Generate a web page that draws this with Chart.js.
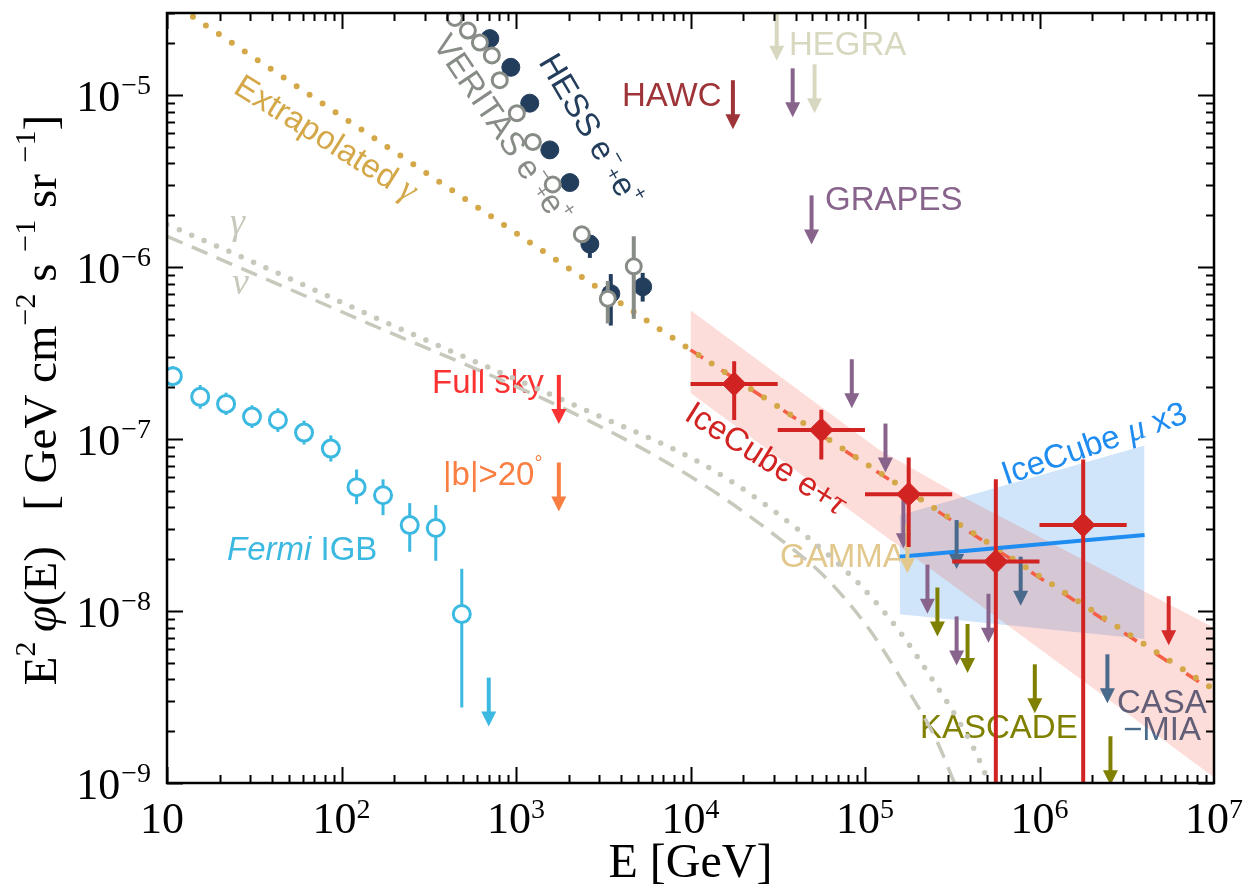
<!DOCTYPE html>
<html>
<head>
<meta charset="utf-8">
<title>Diffuse gamma / neutrino fluxes</title>
<script src="https://cdn.jsdelivr.net/npm/chart.js@4.4.1/dist/chart.umd.min.js"></script>
<style>
  html, body { margin: 0; padding: 0; background: #fff; }
  canvas { display: block; }
</style>
</head>
<body>
<canvas id="fluxChart" width="1259" height="895"></canvas>
<script>
// ---- axis ticks ----
const xTicks = [10, 1e2, 1e3, 1e4, 1e5, 1e6, 1e7];
const xTickExp = ['', '2', '3', '4', '5', '6', '7'];
const yTicks = [1e-9, 1e-8, 1e-7, 1e-6, 1e-5];
const yTickExp = ['\u22129', '\u22128', '\u22127', '\u22126', '\u22125'];

// ---- Fermi IGB ----
const fermiE    = [10.8, 15.5, 21.8, 30.7, 43.2, 61.0, 86.9, 122, 173, 246, 347, 489];
const fermiFlux = [2.32e-7, 1.76e-7, 1.60e-7, 1.35e-7, 1.29e-7, 1.09e-7, 8.8e-8, 5.25e-8, 4.71e-8, 3.16e-8, 3.04e-8, 9.6e-9];
const fermiLo   = [2.03e-7, 1.50e-7, 1.38e-7, 1.16e-7, 1.10e-7, 9.3e-8, 7.4e-8, 4.18e-8, 3.61e-8, 2.21e-8, 1.96e-8, 2.75e-9];
const fermiHi   = [2.65e-7, 2.06e-7, 1.86e-7, 1.57e-7, 1.51e-7, 1.28e-7, 1.05e-7, 6.65e-8, 5.83e-8, 4.24e-8, 4.13e-8, 1.76e-8];

// ---- HESS e-+e+ ----
const hessE    = [708, 934, 1199, 1562, 2034, 2650, 3493, 5321];
const hessFlux = [2.13e-5, 1.45e-5, 8.97e-6, 4.80e-6, 3.10e-6, 1.36e-6, 7.0e-7, 7.68e-7];
const hessLo   = [2.0e-5, 1.37e-5, 8.4e-6, 4.5e-6, 2.85e-6, 1.13e-6, 4.57e-7, 6.3e-7];
const hessHi   = [2.25e-5, 1.53e-5, 9.5e-6, 5.1e-6, 3.35e-6, 1.5e-6, 9.1e-7, 9.25e-7];

// ---- VERITAS e-+e+ ----
const veritasE    = [446, 530, 621, 727, 807, 1011, 1249, 1624, 2384, 3357, 4730];
const veritasFlux = [2.81e-5, 2.37e-5, 2.02e-5, 1.70e-5, 1.22e-5, 7.85e-6, 5.34e-6, 3.02e-6, 1.55e-6, 6.55e-7, 1.01e-6];
const veritasLo   = [2.7e-5, 2.28e-5, 1.94e-5, 1.63e-5, 1.17e-5, 7.5e-6, 5.1e-6, 2.88e-6, 1.45e-6, 4.7e-7, 5.0e-7];
const veritasHi   = [2.92e-5, 2.46e-5, 2.1e-5, 1.77e-5, 1.27e-5, 8.2e-6, 5.6e-6, 3.16e-6, 1.66e-6, 8.3e-7, 1.51e-6];

// ---- IceCube e+tau ----
const icE    = [1.78e4, 5.62e4, 1.78e5, 5.62e5, 1.78e6];
const icEmin = [1.0e4, 3.16e4, 1.0e5, 3.16e5, 1.0e6];
const icEmax = [3.16e4, 1.0e5, 3.16e5, 1.0e6, 3.16e6];
const icFlux = [2.09e-7, 1.13e-7, 4.78e-8, 1.94e-8, 3.16e-8];
const icLo   = [1.29e-7, 7.6e-8, 2.36e-8, 1e-12, 1e-12];
const icHi   = [2.83e-7, 1.48e-7, 7.8e-8, 5.83e-8, 7.6e-8];
const icFitE    = [1e4, 1e7];
const icFitFlux = [3.3e-7, 3.4e-9];
const icBandE  = [1e4, 1.2e5, 3.5e5, 1e7];
const icBandHi = [5.6e-7, 8.7e-8, 4.7e-8, 8.0e-9];
const icBandLo = [1.85e-7, 2.9e-8, 1.32e-8, 1.08e-9];

// ---- IceCube mu x3 ----
const muE     = [1.58e5, 4.0e6];
const muFit   = [2.07e-8, 2.77e-8];
const muBandHi = [3.61e-8, 9.16e-8];
const muBandLo = [9.57e-9, 6.87e-9];

// ---- model curves ----
const extrapE    = [10, 1e4, 1e7];
const extrapFlux = [3.6e-5, 3.3e-7, 3.5e-9];
const gamE    = [10, 31.1, 170, 2900, 1e4, 1.86e4, 3.12e4, 5.7e4, 9.3e4, 1.58e5, 2.5e5, 3.48e5, 4.66e5, 5.3e5];
const gamFlux = [1.77e-6, 1.07e-6, 4.89e-7, 1.38e-7, 7.8e-8, 5.38e-8, 3.71e-8, 2.27e-8, 1.43e-8, 7.6e-9, 3.83e-9, 2.25e-9, 1.27e-9, 9e-10];
const nuE    = [10, 116, 2415, 1.13e4, 3.24e4, 6.0e4, 1.06e5, 1.73e5, 2.57e5, 3.26e5, 3.6e5];
const nuFlux = [1.51e-6, 5.15e-7, 1.33e-7, 5.6e-8, 2.63e-8, 1.55e-8, 7.8e-9, 3.58e-9, 1.77e-9, 1.0e-9, 8e-10];

// ---- upper limits (flux at arrow top) ----
const hegraE = [3.12e4, 5.14e4];
const hegraUL = [3.05e-5, 1.51e-5];
const grapesE = [3.85e4, 4.94e4, 8.4e4, 1.31e5, 1.66e5, 2.28e5, 3.35e5, 5.1e5];
const grapesUL = [1.43e-5, 2.61e-6, 2.91e-7, 1.23e-7, 4.47e-8, 1.86e-8, 9.3e-9, 1.26e-8];
const hawcE = [1.75e4];
const hawcUL = [1.22e-5];
const fullSkyE = [1.76e3];
const fullSkyUL = [2.36e-7];
const highLatE = [1.76e3];
const highLatUL = [7.3e-8];
const fermiUlE = [698];
const fermiUL = [4.1e-9];
const kascadeE = [2.6e5, 3.87e5, 9.4e5, 2.55e6];
const kascadeUL = [1.37e-8, 8.4e-9, 4.9e-9, 1.87e-9];
const casaE = [3.35e5, 7.8e5, 2.45e6];
const casaUL = [3.38e-8, 2.07e-8, 5.6e-9];
const gammaExpE = [1.75e5];
const gammaExpUL = [3.2e-8];
const icUlE = [5.5e6];
const icUL = [1.22e-8];

const SANS = '"Liberation Sans", Arial, Helvetica, sans-serif';
const SERIF = '"Liberation Serif", "Times New Roman", Times, serif';

const C = {
  fermi: '#3cb9e1', hess: '#233d5c', veritas: '#878c86', ic: '#d22323', icFit: '#f55f46',
  mu: '#1e8cf0', muBand: '#d0e5fa', icBand: 'rgba(240,30,0,0.15)', gold: '#d4a848', model: '#c8c8bc',
  hegra: '#d8d8c0', grapes: '#88648c', hawc: '#9e3438', fullSky: '#fa3232', highLat: '#fa7d41',
  kascade: '#808000', casa: '#4a6a8c', gammaExp: '#e2c88c', icUl: '#d42a2a'
};

const ulGroups = [
  { E: hegraE, ul: hegraUL, color: C.hegra },
  { E: grapesE, ul: grapesUL, color: C.grapes },
  { E: hawcE, ul: hawcUL, color: C.hawc },
  { E: fullSkyE, ul: fullSkyUL, color: C.fullSky },
  { E: highLatE, ul: highLatUL, color: C.highLat },
  { E: fermiUlE, ul: fermiUL, color: C.fermi },
  { E: kascadeE, ul: kascadeUL, color: C.kascade },
  { E: gammaExpE, ul: gammaExpUL, color: C.gammaExp },
  { E: casaE, ul: casaUL, color: C.casa },
  { E: icUlE, ul: icUL, color: C.icUl }
];

// text labels: [text, kind] kinds: n normal, i italic, g greek italic (serif), sup, small
const labels = [
  { x: 789, y: 55, color: C.hegra, parts: [['HEGRA']] },
  { x: 622, y: 106, color: C.hawc, parts: [['HAWC']] },
  { x: 825, y: 210, color: C.grapes, parts: [['GRAPES']] },
  { x: 432, y: 393, color: C.fullSky, parts: [['Full sky']] },
  { x: 443, y: 485, color: C.highLat, parts: [['|b|>20'], ['\u00b0', 'sup']] },
  { x: 227, y: 560, color: C.fermi, parts: [['Fermi', 'i'], [' IGB']] },
  { x: 780, y: 567, color: C.gammaExp, parts: [['GAMMA']] },
  { x: 920, y: 738, color: C.kascade, parts: [['KASCADE']] },
  { x: 1117, y: 713, color: C.casa, parts: [['CASA']] },
  { x: 1123, y: 740, color: C.casa, parts: [['\u2212MIA']] },
  { x: 683, y: 419, rot: 32, color: C.ic, parts: [['IceCube e+'], ['\u03c4', 'g']] },
  { x: 1006, y: 485, rot: -19, color: C.mu, parts: [['IceCube '], ['\u03bc', 'g'], [' x3']] },
  { x: 232, y: 92, rot: 32, color: C.gold, parts: [['Extrapolated '], ['\u03b3', 'g']] },
  { x: 538, y: 62, rot: 59.5, color: C.hess, parts: [['HESS e'], ['\u2212', 'sup'], ['+', 'small'], ['e'], ['+', 'sup']] },
  { x: 432, y: 44, rot: 56, color: C.veritas, parts: [['VERITAS e'], ['\u2212', 'sup'], ['+', 'small'], ['e'], ['+', 'sup']] },
  { x: 230, y: 234, color: C.model, size: 36, parts: [['\u03b3', 'g']] },
  { x: 232, y: 294, color: C.model, size: 36, parts: [['\u03bd', 'g']] }
];

function pts(xs, ys){ return xs.map((x, i) => ({ x, y: ys[i] })); }

function lineSet(xs, ys, style){
  return Object.assign({
    type: 'line', data: pts(xs, ys), pointRadius: 0, pointHitRadius: 0,
    fill: false, clip: 0, borderColor: 'rgba(0,0,0,0)', borderWidth: 0
  }, style);
}

function markerSet(xs, ys, style){
  return Object.assign({ type: 'scatter', data: pts(xs, ys), clip: 0, pointHitRadius: 0 }, style);
}

function drawRich(ctx, spec){
  const size = spec.size || 33;
  ctx.save();
  ctx.translate(spec.x, spec.y);
  if (spec.rot) ctx.rotate(spec.rot * Math.PI / 180);
  ctx.fillStyle = spec.color;
  ctx.textBaseline = 'alphabetic';
  ctx.textAlign = 'left';
  let cx = 0;
  spec.parts.forEach(([t, kind]) => {
    let font, dy = 0;
    if (kind === 'i') font = 'italic ' + size + 'px ' + SANS;
    else if (kind === 'g') font = 'italic ' + Math.round(size * 1.05) + 'px ' + SERIF;
    else if (kind === 'sup') { font = Math.round(size * 0.62) + 'px ' + SANS; dy = -size * 0.45; }
    else if (kind === 'small') { font = Math.round(size * 0.62) + 'px ' + SANS; dy = -size * 0.05; }
    else font = size + 'px ' + SANS;
    ctx.font = font;
    ctx.fillText(t, cx, dy);
    cx += ctx.measureText(t).width;
  });
  ctx.restore();
}

function clipArea(chart){
  const a = chart.chartArea, ctx = chart.ctx;
  ctx.beginPath();
  ctx.rect(a.left, a.top, a.right - a.left, a.bottom - a.top);
  ctx.clip();
}

function drawErrs(chart, ds){
  const { ctx, scales: { x, y } } = chart;
  const e = ds.errs;
  ctx.save();
  clipArea(chart);
  ctx.strokeStyle = e.color;
  ctx.lineWidth = e.width;
  ds.data.forEach((p, i) => {
    const px = x.getPixelForValue(p.x);
    ctx.beginPath();
    ctx.moveTo(px, y.getPixelForValue(e.hi[i]));
    ctx.lineTo(px, y.getPixelForValue(e.lo[i]));
    if (e.xlo){
      const py = y.getPixelForValue(p.y);
      ctx.moveTo(x.getPixelForValue(e.xlo[i]), py);
      ctx.lineTo(x.getPixelForValue(e.xhi[i]), py);
    }
    ctx.stroke();
  });
  ctx.restore();
}

function drawArrows(chart){
  const { ctx, scales: { x, y } } = chart;
  ctx.save();
  clipArea(chart);
  ulGroups.forEach(g => {
    ctx.strokeStyle = g.color;
    ctx.fillStyle = g.color;
    ctx.lineWidth = 4;
    g.E.forEach((E, i) => {
      const px = x.getPixelForValue(E);
      const top = y.getPixelForValue(g.ul[i]);
      const tip = top + 49;
      ctx.beginPath();
      ctx.moveTo(px, top);
      ctx.lineTo(px, tip - 12);
      ctx.stroke();
      ctx.beginPath();
      ctx.moveTo(px - 7.5, tip - 15);
      ctx.lineTo(px + 7.5, tip - 15);
      ctx.lineTo(px, tip);
      ctx.closePath();
      ctx.fill();
    });
  });
  ctx.restore();
}

function drawFrame(chart){
  const { ctx, chartArea: a, scales: { x, y } } = chart;
  ctx.save();
  ctx.strokeStyle = '#000';
  ctx.lineWidth = 2;
  ctx.beginPath();
  // x ticks on bottom and top
  for (let d = 10; d < 1e7; d *= 10){
    for (let m = 1; m <= 9; m++){
      const px = Math.round(x.getPixelForValue(d * m)) + 0.5;
      const len = m === 1 ? 16 : 8;
      ctx.moveTo(px, a.bottom); ctx.lineTo(px, a.bottom - len);
      ctx.moveTo(px, a.top); ctx.lineTo(px, a.top + len);
    }
  }
  // y ticks on left and right
  for (let d = 1e-9; d < 3e-5; d *= 10){
    for (let m = 1; m <= 9; m++){
      const v = d * m;
      if (v > 3e-5) break;
      const py = Math.round(y.getPixelForValue(v)) + 0.5;
      const len = m === 1 ? 16 : 8;
      ctx.moveTo(a.left, py); ctx.lineTo(a.left + len, py);
      ctx.moveTo(a.right, py); ctx.lineTo(a.right - len, py);
    }
  }
  ctx.stroke();
  ctx.lineWidth = 2.5;
  ctx.strokeRect(a.left, a.top, a.right - a.left, a.bottom - a.top);

  // tick labels
  ctx.fillStyle = '#000';
  ctx.textBaseline = 'alphabetic';
  ctx.textAlign = 'left';
  xTicks.forEach((v, i) => {
    const px = x.getPixelForValue(v);
    ctx.font = '44px ' + SERIF;
    const bw = ctx.measureText('10').width;
    ctx.font = '28px ' + SERIF;
    const ew = ctx.measureText(xTickExp[i]).width;
    const start = px - (bw + ew) / 2 - (i === 0 ? 5 : 0);
    ctx.font = '44px ' + SERIF;
    ctx.fillText('10', start, a.bottom + 50);
    ctx.font = '28px ' + SERIF;
    ctx.fillText(xTickExp[i], start + bw, a.bottom + 35);
  });
  yTicks.forEach((v, i) => {
    const py = y.getPixelForValue(v);
    ctx.font = '28px ' + SERIF;
    const ew = ctx.measureText(yTickExp[i]).width;
    ctx.fillText(yTickExp[i], 151 - ew, py - 1);
    ctx.font = '44px ' + SERIF;
    const bw = ctx.measureText('10').width;
    ctx.fillText('10', 150 - ew - bw, py + 16);
  });

  // axis titles
  ctx.font = '48px ' + SERIF;
  ctx.textAlign = 'center';
  ctx.fillText('E [GeV]', (a.left + a.right) / 2, 877);

  const yParts = [
    ['E', 47, 0], ['2', 30, -21], ['\u2009', 47, 0], ['\u03c6', 47, 0, 'italic '], ['(E)\u2002 [ GeV cm', 47, 0],
    ['\u22122', 30, -21], [' s ', 47, 0], ['\u22121', 30, -21], [' sr ', 47, 0], ['\u22121', 30, -21], [']', 47, 0]
  ];
  ctx.save();
  ctx.translate(56, 400);
  ctx.rotate(-Math.PI / 2);
  ctx.textAlign = 'left';
  let total = 0;
  yParts.forEach(p => { ctx.font = (p[3] || '') + p[1] + 'px ' + SERIF; total += ctx.measureText(p[0]).width; });
  let cx = -total / 2;
  yParts.forEach(p => {
    ctx.font = (p[3] || '') + p[1] + 'px ' + SERIF;
    ctx.fillText(p[0], cx, p[2]);
    cx += ctx.measureText(p[0]).width;
  });
  ctx.restore();
  ctx.restore();
}

const overlayPlugin = {
  id: 'overlay',
  beforeDatasetsDraw(chart){
    const ctx = chart.ctx;
    ctx.save();
    labels.forEach(l => drawRich(ctx, l));
    ctx.restore();
  },
  beforeDatasetDraw(chart, args){
    const ds = chart.data.datasets[args.index];
    if (ds.errs) drawErrs(chart, ds);
  },
  afterDatasetDraw(chart, args){
    const ds = chart.data.datasets[args.index];
    if (ds.withArrows) drawArrows(chart);
  },
  afterDraw(chart){ drawFrame(chart); }
};

const datasets = [
  lineSet(muE, muBandHi, { backgroundColor: C.muBand, fill: 1, order: 20 }),          // 0
  lineSet(muE, muBandLo, { order: 20 }),                                              // 1
  lineSet(icBandE, icBandHi, { backgroundColor: C.icBand, fill: 3, order: 19 }),      // 2
  lineSet(icBandE, icBandLo, { order: 19 }),                                          // 3
  lineSet(nuE, nuFlux, { borderColor: C.model, borderWidth: 3.5, borderDash: [17, 10], cubicInterpolationMode: 'monotone', order: 16 }),
  lineSet(gamE, gamFlux, { borderColor: C.model, borderWidth: 5.5, borderDash: [0, 13.5], borderCapStyle: 'round', cubicInterpolationMode: 'monotone', order: 16 }),
  lineSet(icFitE, icFitFlux, { borderColor: C.icFit, borderWidth: 3.5, borderDash: [15, 22], order: 15 }),
  lineSet(extrapE, extrapFlux, { borderColor: C.gold, borderWidth: 6, borderDash: [0, 15.6], borderCapStyle: 'round', order: 14 }),
  lineSet(muE, muFit, { borderColor: C.mu, borderWidth: 4, order: 12, withArrows: true }),
  markerSet(hessE, hessFlux, { pointStyle: 'circle', pointRadius: 9, pointBorderWidth: 1, pointBackgroundColor: C.hess, pointBorderColor: C.hess, order: 5,
    errs: { lo: hessLo, hi: hessHi, color: C.hess, width: 4 } }),
  markerSet(veritasE, veritasFlux, { pointStyle: 'circle', pointRadius: 7.5, pointBorderWidth: 3, pointBackgroundColor: '#fff', pointBorderColor: C.veritas, order: 4,
    errs: { lo: veritasLo, hi: veritasHi, color: C.veritas, width: 4 } }),
  markerSet(fermiE, fermiFlux, { pointStyle: 'circle', pointRadius: 8.5, pointBorderWidth: 3, pointBackgroundColor: '#fff', pointBorderColor: C.fermi, order: 3,
    errs: { lo: fermiLo, hi: fermiHi, color: C.fermi, width: 3 } }),
  markerSet(icE, icFlux, { pointStyle: 'rectRot', pointRadius: 12, pointBorderWidth: 1, pointBackgroundColor: C.ic, pointBorderColor: C.ic, order: 2,
    errs: { lo: icLo, hi: icHi, xlo: icEmin, xhi: icEmax, color: C.ic, width: 4 } })
];

new Chart(document.getElementById('fluxChart'), {
  type: 'scatter',
  data: { datasets },
  options: {
    responsive: false,
    animation: false,
    devicePixelRatio: 1,
    events: [],
    layout: { padding: { left: 167, right: 45, top: 7, bottom: 112 } },
    scales: {
      x: { type: 'logarithmic', min: 10, max: 1e7, display: false },
      y: { type: 'logarithmic', min: 1e-9, max: 3e-5, display: false }
    },
    plugins: { legend: { display: false }, tooltip: { enabled: false } }
  },
  plugins: [overlayPlugin]
});
</script>
</body>
</html>
